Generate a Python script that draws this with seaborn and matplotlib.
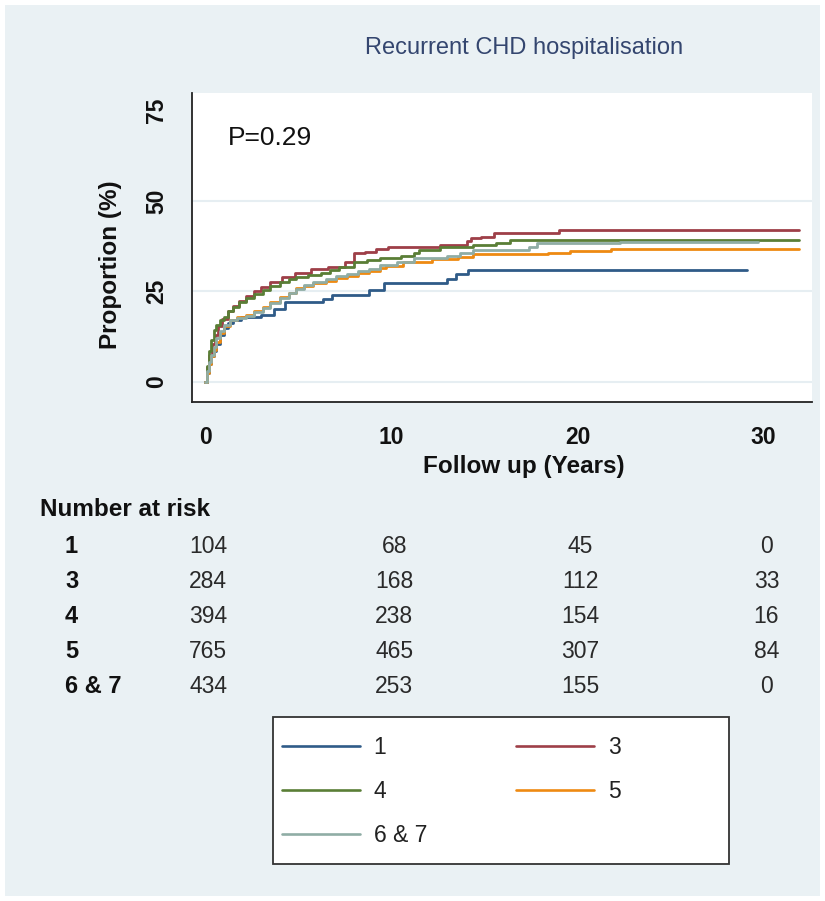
import matplotlib
matplotlib.use("Agg")
import matplotlib.pyplot as plt
import matplotlib.transforms as mtransforms
from matplotlib.lines import Line2D
from matplotlib.patches import Rectangle
import numpy as np
import pandas as pd
import seaborn as sns

# ---- cumulative incidence (%) step curves by group ----
groups = ["1", "3", "4", "5", "6 & 7"]

t_g1 = [0, 0.1, 0.2, 0.3, 0.45, 0.6, 0.8, 1.0, 1.2, 1.5, 1.9, 3.0, 3.7, 4.3,
        6.35, 6.8, 8.8, 9.6, 13.0, 13.5, 14.1, 29.1]
p_g1 = [0, 2.5, 5.0, 7.0, 8.5, 10.5, 13.0, 15.0, 16.2, 17.0, 17.8, 18.6, 20.0, 22.2,
        23.0, 23.9, 25.4, 27.3, 28.4, 29.7, 31.0, 31.0]

t_g3 = [0, 0.1, 0.2, 0.35, 0.5, 0.7, 0.9, 1.2, 1.5, 1.8, 2.2, 2.6, 3.0, 3.5, 4.1,
        4.8, 5.7, 6.6, 7.5, 8.0, 8.6, 9.2, 9.8, 12.6, 14.05, 14.3, 14.8, 15.5, 19.0, 31.9]
p_g3 = [0, 4.0, 7.5, 10.5, 13.0, 15.5, 17.5, 19.5, 21.0, 22.3, 23.6, 25.0, 26.3, 27.7, 29.1,
        30.0, 31.1, 31.9, 33.2, 35.6, 36.0, 36.7, 37.2, 37.8, 39.0, 39.7, 40.2, 41.3, 41.9, 41.9]

t_g4 = [0, 0.1, 0.2, 0.3, 0.45, 0.6, 0.8, 1.0, 1.25, 1.5, 1.8, 2.2, 2.6, 3.1, 3.5, 4.0,
        4.5, 4.9, 5.5, 6.2, 6.7, 7.2, 8.0, 8.7, 9.4, 10.5, 11.2, 11.5, 12.6, 14.4, 15.6,
        16.4, 31.9]
p_g4 = [0, 4.5, 8.5, 11.5, 14.3, 15.8, 17.0, 18.0, 19.5, 20.8, 22.0, 23.1, 24.2, 25.4, 26.5,
        27.7, 28.4, 29.1, 29.6, 30.2, 31.0, 31.9, 33.2, 33.7, 34.2, 34.8, 35.6, 36.5, 37.4,
        37.9, 38.5, 39.1, 39.1]

t_g5 = [0, 0.1, 0.2, 0.3, 0.45, 0.6, 0.8, 1.0, 1.33, 1.7, 2.2, 2.6, 3.1, 3.5, 4.0, 4.5,
        4.9, 5.3, 5.8, 6.5, 7.0, 7.6, 8.2, 8.8, 9.4, 9.7, 10.6, 12.2, 13.6, 14.4, 18.4,
        19.6, 21.8, 31.9]
p_g5 = [0, 2.5, 5.0, 7.0, 8.8, 11.0, 13.5, 15.5, 17.1, 17.8, 18.5, 19.6, 20.8, 22.2, 23.5,
        24.7, 25.9, 26.6, 27.3, 28.0, 28.7, 29.4, 30.0, 30.6, 31.4, 32.0, 33.2, 34.0, 34.6,
        35.4, 35.7, 36.3, 36.8, 36.8]

t_g67 = [0, 0.1, 0.2, 0.3, 0.45, 0.6, 0.8, 1.0, 1.33, 1.7, 2.2, 2.6, 3.1, 3.5, 4.0, 4.5,
         4.9, 5.3, 5.8, 6.5, 7.0, 7.6, 8.2, 8.8, 9.4, 10.3, 11.2, 13.0, 13.7, 14.4, 17.4,
         17.8, 22.3, 29.7]
p_g67 = [0, 3.0, 5.5, 7.5, 9.5, 12.0, 14.0, 15.8, 17.0, 17.6, 18.2, 19.2, 20.4, 21.8, 23.2,
         24.5, 25.8, 26.8, 27.6, 28.4, 29.2, 29.9, 30.6, 31.2, 32.3, 33.2, 34.2, 34.8, 35.7,
         36.5, 37.4, 38.3, 38.7, 38.7]

# ---- number at risk table ----
risk_times = [0, 10, 20, 30]
risk_g1 = [104, 68, 45, 0]
risk_g3 = [284, 168, 112, 33]
risk_g4 = [394, 238, 154, 16]
risk_g5 = [765, 465, 307, 84]
risk_g67 = [434, 253, 155, 0]

x_ticks = [0, 10, 20, 30]
y_ticks = [0, 25, 50, 75]
grid_levels = [0, 25, 50]
p_value_text = "P=0.29"

palette = {
    "1": "#2F5B88",
    "3": "#9E3F48",
    "4": "#5A7E36",
    "5": "#EE8A12",
    "6 & 7": "#8FADA5",
}

frames = []
for name, t, p in [("1", t_g1, p_g1), ("3", t_g3, p_g3), ("4", t_g4, p_g4),
                   ("5", t_g5, p_g5), ("6 & 7", t_g67, p_g67)]:
    frames.append(pd.DataFrame({"time": t, "pct": p, "group": name}))
df = pd.concat(frames, ignore_index=True)

sns.set_theme(style="white")
plt.rcParams["font.family"] = ["Liberation Sans", "DejaVu Sans"]

W, H = 825, 901
fig = plt.figure(figsize=(W / 100, H / 100), dpi=100)
fig.patch.set_facecolor("white")
fig.patches.append(Rectangle((5 / W, 5 / H), (820 - 5) / W, (896 - 5) / H,
                             transform=fig.transFigure, facecolor="#EAF1F4",
                             edgecolor="none", zorder=-10))

ax = fig.add_axes([192 / W, 1 - 402 / H, (812 - 192) / W, (402 - 92.7) / H])
ax.set_facecolor("white")

for lvl in grid_levels:
    ax.axhline(lvl, color="#E6EEF2", lw=1.5, zorder=0)

sns.lineplot(data=df, x="time", y="pct", hue="group", hue_order=groups,
             palette=palette, estimator=None, sort=False, drawstyle="steps-post",
             linewidth=2.0, legend=False, ax=ax)

ax.set_xlim(-0.71, 32.6)
ax.set_ylim(-5.6, 80.0)
ax.set_xticks(x_ticks)
ax.set_yticks(y_ticks)
ax.set_xticklabels([str(v) for v in x_ticks], fontsize=16.5, fontweight="bold")
ax.set_yticklabels([str(v) for v in y_ticks], fontsize=16.5, fontweight="bold",
                   rotation=90, va="center")
ax.tick_params(axis="both", direction="out", length=6, width=1.2, color="#222222",
               pad=11, labelcolor="#111111")
for s in ["top", "right"]:
    ax.spines[s].set_visible(False)
for s in ["left", "bottom"]:
    ax.spines[s].set_color("#222222")
    ax.spines[s].set_linewidth(1.3)

ax.set_xlabel("")
ax.set_ylabel("")
fig.text(524 / W, 1 - 467 / H, "Follow up (Years)", ha="center", va="center",
         fontsize=17.5, fontweight="bold", color="#111111")
fig.text(110 / W, 1 - 265 / H, "Proportion (%)", ha="center", va="center",
         rotation=90, fontsize=17.5, fontweight="bold", color="#111111")
fig.text(524 / W, 1 - 48 / H, "Recurrent CHD hospitalisation", ha="center",
         va="center", fontsize=17, color="#34466F")

ax.text(1.22, 67.5, p_value_text, ha="left", va="center", fontsize=19, color="#111111")

# number at risk table, columns aligned to the x axis scale
tr = mtransforms.blended_transform_factory(ax.transData, fig.transFigure)
fig.text(40 / W, 1 - 510 / H, "Number at risk", ha="left", va="center",
         fontsize=17.5, fontweight="bold", color="#111111")
row_y = [546.5, 581.5, 616.5, 651.5, 686.5]
for name, counts, y in zip(groups, [risk_g1, risk_g3, risk_g4, risk_g5, risk_g67], row_y):
    fig.text(65 / W, 1 - y / H, name, ha="left", va="center", fontsize=17,
             fontweight="bold", color="#111111")
    for tx, n in zip(risk_times, counts):
        ax.text(tx + 0.15, 1 - y / H, str(n), transform=tr, ha="center", va="center",
                fontsize=16.5, color="#2A2A2A", clip_on=False)

# legend box
fig.patches.append(Rectangle((273 / W, 1 - 864 / H), (729 - 273) / W, (864 - 717) / H,
                             transform=fig.transFigure, facecolor="white",
                             edgecolor="#333333", linewidth=1.3, zorder=5))
order = ["1", "4", "6 & 7", "3", "5"]
handles = [Line2D([], [], color=palette[g], lw=1.9) for g in order]
leg = fig.legend(handles, order, loc="upper left", ncol=2, frameon=False,
                 bbox_to_anchor=(282 / W, 1 - 736 / H), bbox_transform=fig.transFigure,
                 borderpad=0, borderaxespad=0, fontsize=16.5, handlelength=3.4,
                 handletextpad=0.6, columnspacing=3.9, labelspacing=0.91)
leg.set_zorder(6)
for txt in leg.get_texts():
    txt.set_color("#222222")

fig.savefig("out.png", dpi=100, facecolor="white")
